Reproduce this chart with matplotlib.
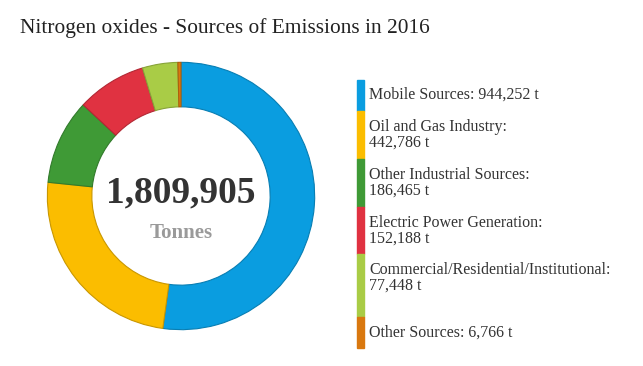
import matplotlib.pyplot as plt
from matplotlib.patches import Rectangle
import matplotlib.colors as mcolors

# emission sources and tonnes
sources = ['Mobile Sources', 'Oil and Gas Industry', 'Other Industrial Sources',
           'Electric Power Generation', 'Commercial/Residential/Institutional', 'Other Sources']
tonnes = [944252, 442786, 186465, 152188, 77448, 6766]
labels = ['Mobile Sources: 944,252 t', 'Oil and Gas Industry:\n442,786 t',
          'Other Industrial Sources:\n186,465 t', 'Electric Power Generation:\n152,188 t',
          'Commercial/Residential/Institutional:\n77,448 t', 'Other Sources: 6,766 t']
colors = ['#0a9de0', '#fbbd00', '#3f9a36', '#e03241', '#a9cc46', '#d9780f']

plt.rcParams['font.family'] = ['Liberation Serif', 'DejaVu Serif']

fig = plt.figure(figsize=(6.43, 3.66), dpi=100)
W, H = 643, 366

# donut
ax = fig.add_axes([46 / W, 35 / H, 270 / W, 270 / H])
wedges, _ = ax.pie(tonnes, colors=colors, startangle=90, counterclock=False, radius=1,
                   wedgeprops=dict(width=0.333, linewidth=0.8))
for w, c in zip(wedges, colors):
    r, g, b = mcolors.to_rgb(c)
    w.set_edgecolor((r * 0.8, g * 0.8, b * 0.8))
ax.set_xlim(-1.01, 1.01)
ax.set_ylim(-1.01, 1.01)

total = sum(tonnes)
ax.text(0, 0.02, f'{total:,}', ha='center', va='center', fontsize=27,
        fontweight='bold', color='#333333')
ax.text(0, -0.28, 'Tonnes', ha='center', va='center', fontsize=15,
        fontweight='bold', color='#9a9a9a')

fig.text(20 / W, 1 - 28 / H, 'Nitrogen oxides - Sources of Emissions in 2016',
         ha='left', va='center', fontsize=15.4, color='#222222')

# legend bars with labels
bar_edges = [80, 111, 159, 207, 254, 317, 348]
text_y = [95, 127, 175, 223, 270, 333]
for i in range(len(sources)):
    y0, y1 = bar_edges[i], bar_edges[i + 1]
    fig.patches.append(Rectangle((357 / W, 1 - y1 / H), 7 / W, (y1 - y0) / H,
                                 transform=fig.transFigure, color=colors[i]))
    fig.text(369 / W, 1 - (text_y[i] - 8) / H, labels[i], ha='left', va='top',
             fontsize=11.5, color='#333333', linespacing=1.0)

fig.savefig('out.png', dpi=100)
